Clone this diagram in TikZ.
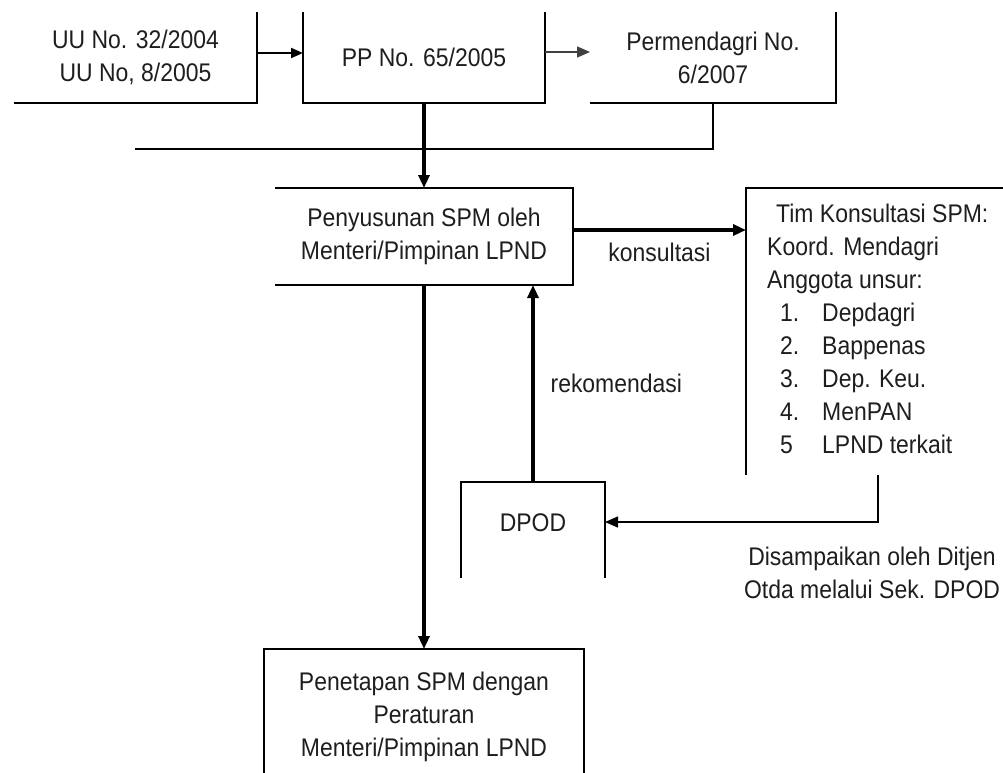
\documentclass[tikz,border=0pt]{standalone}
\usepackage{fontspec}
\setmainfont{Liberation Sans}[FakeStretch=0.9]
\usepackage{xcolor}
\usetikzlibrary{arrows.meta, positioning}
\definecolor{InkGray}{HTML}{1E1E1E}
\definecolor{ThinGray}{HTML}{404040}

\begin{document}
\begin{tikzpicture}[x=1pt, y=-1pt, on grid,
  every node/.style={font=\fontsize{25.5}{33}\selectfont, text=InkGray, inner sep=0pt},
  box/.style={outer sep=0pt, align=center},
  edge/.style={line width=1.5pt},
  thick arrow/.style={line width=3.2pt, -{Triangle[length=13pt, width=11pt]}},
  mid arrow/.style={line width=2pt, -{Triangle[length=12pt, width=10pt]}},
  thin arrow/.style={line width=1.4pt, -{Triangle[length=13pt, width=11pt]}}]

\useasboundingbox[fill=white] (0,0) rectangle (1003,772);

\node[box, minimum width=243pt, minimum height=91pt] (UU) at (135.5,57.5) {UU No. 32/2004\\UU No, 8/2005};
\node[box, minimum width=242pt, minimum height=91pt, right=288.5pt of UU] (PP) {PP No. 65/2005};
\node[box, minimum width=246pt, minimum height=91pt, right=289pt of PP] (Perm) {Permendagri No.\\6/2007};
\node[box, minimum width=298pt, minimum height=97pt, below=179pt of PP] (Susun) {Penyusunan SPM oleh\\Menteri/Pimpinan LPND};
\node[box, minimum width=257pt, minimum height=287pt, below right=95pt and 450.5pt of Susun] (Tim) {};
\node[box, minimum width=144pt, minimum height=96pt, text depth=14pt, below right=293.5pt and 109pt of Susun] (DPOD) {DPOD};
\node[box, minimum width=320pt, minimum height=135pt, below=480pt of Susun] (Tetap) {Penetapan SPM dengan\\Peraturan\\Menteri/Pimpinan LPND};

\node[anchor=north west, align=left] (TimList) at ([shift={(21pt,-16pt)}]Tim.north west)
  {\hspace*{9pt}Tim Konsultasi SPM:\\
   Koord. Mendagri\\
   Anggota unsur:\\
   \hspace*{13pt}\makebox[42pt][l]{1.}Depdagri\\
   \hspace*{13pt}\makebox[42pt][l]{2.}Bappenas\\
   \hspace*{13pt}\makebox[42pt][l]{3.}Dep. Keu.\\
   \hspace*{13pt}\makebox[42pt][l]{4.}MenPAN\\
   \hspace*{13pt}\makebox[42pt][l]{5}LPND terkait};

% box sides that show
\draw[edge] (UU.north east) -- (UU.south east) -- (UU.south west);
\draw[edge] (PP.north west) -- (PP.south west) -- (PP.south east) -- (PP.north east);
\draw[edge] (Perm.south west) -- (Perm.south east) -- (Perm.north east);
\draw[edge] (Susun.north west) -- (Susun.north east) -- (Susun.south east) -- (Susun.south west);
\draw[edge] (Tim.north east) -- (Tim.north west) -- (Tim.south west);
\draw[edge] (DPOD.south west) -- (DPOD.north west) -- (DPOD.north east) -- (DPOD.south east);
\draw[edge] (Tetap.south west) -- (Tetap.north west) -- (Tetap.north east) -- (Tetap.south east);

% connectors
\coordinate (Bus) at (135,149);
\draw[edge] (Perm.south) |- (Bus);
\draw[mid arrow] ([yshift=4.5pt]UU.east) -- ([yshift=4.5pt]PP.west);
\draw[thin arrow, draw=ThinGray] ([yshift=5.5pt]PP.east) -- ([yshift=5.5pt]Perm.west);
\draw[thick arrow] (PP.south) -- (Susun.north);
\draw[thick arrow] ([yshift=6.5pt]Susun.east) -- ([yshift=-42pt]Tim.north west)
  node[midway, anchor=north, yshift=-11pt] (Konsul) {konsultasi};
\draw[thick arrow] (Susun.south) -- (Tetap.north);
\draw[thick arrow] (DPOD.north) -- (DPOD.north |- Susun.south)
  node[midway, anchor=west, xshift=16pt] (Rekom) {rekomendasi};
\draw[thin arrow] ([xshift=132pt]Tim.south west) |- ([yshift=8pt]DPOD.east)
  node[pos=0.5, anchor=north, yshift=-24pt, xshift=-6pt, align=center] (Kirim) {Disampaikan oleh Ditjen\\Otda melalui Sek. DPOD};

\end{tikzpicture}
\end{document}
